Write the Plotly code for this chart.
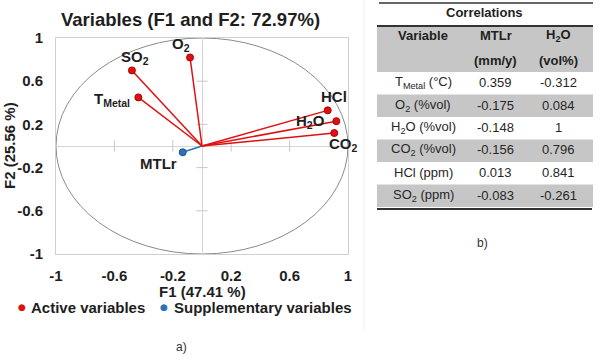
import plotly.graph_objects as go

# ---------------- data ----------------
active_vars = ["T<sub>Metal</sub>", "O<sub>2</sub>", "H<sub>2</sub>O", "CO<sub>2</sub>", "HCl", "SO<sub>2</sub>"]
active_f1 = [-0.436, -0.082, 0.920, 0.906, 0.861, -0.480]
active_f2 = [0.450, 0.820, 0.230, 0.120, 0.330, 0.700]
supp_vars = ["MTLr"]
supp_f1 = [-0.132]
supp_f2 = [-0.058]
axis_ticks = [-1, -0.6, -0.2, 0.2, 0.6, 1]

table_header = ["Variable", "MTLr", "H<sub>2</sub>O"]
table_units = ["", "(mm/y)", "(vol%)"]
table_vars = ["T<sub>Metal</sub> (°C)", "O<sub>2</sub> (%vol)", "H<sub>2</sub>O (%vol)",
              "CO<sub>2</sub> (%vol)", "HCl (ppm)", "SO<sub>2</sub> (ppm)"]
corr_mtlr = [0.359, -0.175, -0.148, -0.156, 0.013, -0.083]
corr_h2o = [-0.312, 0.084, 1, 0.796, 0.841, -0.261]

# ---------------- styles ----------------
W, H = 601, 362
def px(x):
    return x / W
def py(y):
    return 1 - y / H

RED = "#e01010"
RED_DARK = "#b00000"
BLUE = "#2a72b5"
BLUE_DARK = "#1a5590"
TXT = "#1e1e1e"
FONT = "Liberation Sans, Arial, sans-serif"
GREY = "#c6c6c6"

# label offsets (xanchor, xshift, yshift) per label
label_style = {
    "T<sub>Metal</sub>": ("right", -6, -2),
    "O<sub>2</sub>": ("center", -9, 13),
    "H<sub>2</sub>O": ("right", -9, 0),
    "CO<sub>2</sub>": ("center", 9, -11),
    "HCl": ("center", 6, 14),
    "SO<sub>2</sub>": ("center", 3, 13),
    "MTLr": ("right", -4, -11),
}

fig = go.Figure()

# zero-line tick marks
inner = [t for t in axis_ticks if abs(t) < 1]
fig.add_trace(go.Scatter(x=inner, y=[0] * len(inner), mode="markers", hoverinfo="skip",
                         marker=dict(symbol="line-ns", size=8, line=dict(width=1, color="#c8c8c8")),
                         showlegend=False))
fig.add_trace(go.Scatter(x=[0] * len(inner), y=inner, mode="markers", hoverinfo="skip",
                         marker=dict(symbol="line-ew", size=8, line=dict(width=1, color="#c8c8c8")),
                         showlegend=False))

# vectors
def vec(xs, ys):
    lx, ly = [], []
    for a, b in zip(xs, ys):
        lx += [0, a, None]
        ly += [0, b, None]
    return lx, ly

lx, ly = vec(supp_f1, supp_f2)
fig.add_trace(go.Scatter(x=lx, y=ly, mode="lines", line=dict(color=BLUE, width=1.5), showlegend=False))
lx, ly = vec(active_f1, active_f2)
fig.add_trace(go.Scatter(x=lx, y=ly, mode="lines", line=dict(color=RED, width=1.5), showlegend=False))
fig.add_trace(go.Scatter(x=active_f1, y=active_f2, mode="markers", name="Active variables",
                         marker=dict(color=RED, size=7, line=dict(color=RED_DARK, width=1)),
                         showlegend=False))
fig.add_trace(go.Scatter(x=supp_f1, y=supp_f2, mode="markers", name="Supplementary variables",
                         marker=dict(color=BLUE, size=7, line=dict(color=BLUE_DARK, width=1)),
                         showlegend=False))

annotations = []
def note(x, y, text, size=15, color=TXT, xanchor="center", family=FONT, **kw):
    annotations.append(dict(x=px(x), y=py(y), xref="paper", yref="paper", text=text,
                            showarrow=False, xanchor=xanchor, yanchor="middle",
                            font=dict(family=family, size=size, color=color), **kw))

for names, xs, ys in ((active_vars, active_f1, active_f2), (supp_vars, supp_f1, supp_f2)):
    for n, a, b in zip(names, xs, ys):
        anc, xs_, ys_ = label_style[n]
        annotations.append(dict(x=a, y=b, xref="x", yref="y", text="<b>" + n + "</b>",
                                showarrow=False, xanchor=anc, yanchor="middle",
                                xshift=xs_, yshift=ys_,
                                font=dict(family=FONT, size=15, color=TXT)))

# axis titles
note(202, 291, "<b>F1 (47.41 %)</b>")
note(9, 146, "<b>F2 (25.56 %)</b>", textangle=-90)
# legend
for cx, tx, col, name in ((21.5, 29, RED, "Active variables"), (164, 172, BLUE, "Supplementary variables")):
    note(cx, 307, "●", size=9, color=col, family="DejaVu Sans")
    note(tx, 307, "<b>" + name + "</b>", xanchor="left")
# captions
note(181, 347, "a)", size=12, color="#333333")
note(483, 243, "b)", size=12, color="#333333")

# ---------------- table (drawn from the arrays) ----------------
col_x = [423, 495.5, 558]
tbl_left, tbl_right = 377, 593
head_top, head_bot = 26, 72
row_h = 22.5
shapes = []
shapes.append(dict(type="rect", xref="paper", yref="paper", x0=px(tbl_left), x1=px(tbl_right),
                   y0=py(head_bot), y1=py(head_top), fillcolor=GREY, line=dict(width=0), layer="below"))
for i in range(len(table_vars)):
    top = head_bot + i * row_h
    if i % 2 == 1:
        shapes.append(dict(type="rect", xref="paper", yref="paper", x0=px(tbl_left), x1=px(tbl_right),
                           y0=py(top + row_h), y1=py(top), fillcolor=GREY, line=dict(width=0),
                           layer="below"))
    cells = [table_vars[i], f"{corr_mtlr[i]:g}", f"{corr_h2o[i]:g}"]
    for cx, txt in zip(col_x, cells):
        note(cx, top + 10.5, txt, size=13, color="#262626")
for cx, h, u in zip(col_x, table_header, table_units):
    note(cx, 36, "<b>" + h + "</b>", size=13)
    if u:
        note(cx, 60, "<b>" + u + "</b>", size=13)
note(485, 13, "<b>Correlations</b>", size=13)

table_bottom = head_bot + len(table_vars) * row_h
shapes += [
    dict(type="circle", xref="x", yref="y", x0=-1, y0=-1, x1=1, y1=1,
         line=dict(color="#8a8a8a", width=1), layer="below"),
    dict(type="line", xref="paper", yref="paper", x0=px(379), x1=px(tbl_right), y0=py(3), y1=py(3),
         line=dict(color="#333333", width=1.5)),
    dict(type="line", xref="paper", yref="paper", x0=px(tbl_left), x1=px(tbl_right),
         y0=py(head_top), y1=py(head_top), line=dict(color="#333333", width=2)),
    dict(type="line", xref="paper", yref="paper", x0=px(tbl_left), x1=px(tbl_right - 1),
         y0=py(table_bottom + 2), y1=py(table_bottom + 2), line=dict(color="#333333", width=2)),
    dict(type="line", xref="paper", yref="paper", x0=px(364), x1=px(364), y0=py(0), y1=py(330),
         line=dict(color="#efefef", width=1)),
]

axis_common = dict(
    range=[-1, 1], tickvals=axis_ticks, ticktext=[f"{t:g}" for t in axis_ticks],
    showgrid=False, showline=True, mirror=True, linecolor="#d0d0d0", linewidth=1,
    zeroline=True, zerolinecolor="#d5d5d5", zerolinewidth=1, ticks="", automargin=False,
    tickfont=dict(family=FONT, size=15, color=TXT, weight="bold"), fixedrange=True,
)

fig.update_layout(
    width=W, height=H, margin=dict(l=0, r=0, t=0, b=0),
    paper_bgcolor="white", plot_bgcolor="white",
    title=dict(text="<b>Variables (F1 and F2: 72.97%)</b>", x=px(190.5), xanchor="center",
               xref="paper", y=py(20), yanchor="middle", yref="container",
               font=dict(family=FONT, size=18.5, color=TXT)),
    xaxis=dict(domain=[px(56), px(348)], ticklabelstandoff=8, **axis_common),
    yaxis=dict(domain=[py(254), py(38)], ticklabelstandoff=9, **axis_common),
    annotations=annotations, shapes=shapes, showlegend=False,
)

fig.write_html("out.html")
